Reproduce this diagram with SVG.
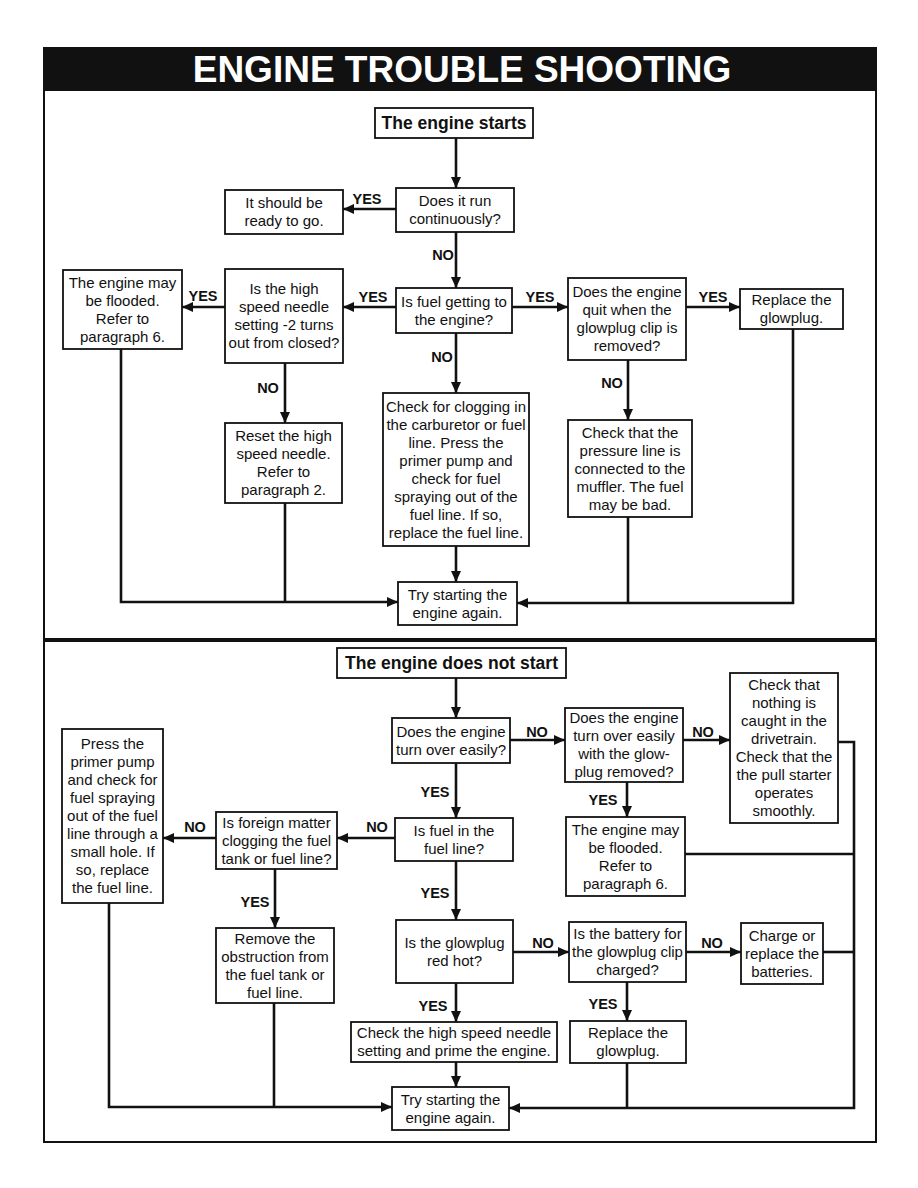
<svg xmlns="http://www.w3.org/2000/svg" width="918" height="1188" viewBox="0 0 918 1188">
<style>
.box{fill:#fff;stroke:#111;stroke-width:1.8}
.t{font-family:"Liberation Sans",Arial,sans-serif;font-size:15px;fill:#111;text-anchor:middle}
.h{font-family:"Liberation Sans",Arial,sans-serif;font-size:17.5px;font-weight:bold;fill:#111;text-anchor:middle}
.lbl{font-family:"Liberation Sans",Arial,sans-serif;font-size:14.5px;font-weight:bold;fill:#111;text-anchor:middle}
.c{fill:none;stroke:#111;stroke-width:2.6}
</style>
<defs>
<marker id="ah" markerUnits="userSpaceOnUse" markerWidth="12" markerHeight="10" refX="11" refY="5" orient="auto">
<path d="M0,0 L11,5 L0,10 z" fill="#111"/>
</marker>
</defs>
<rect width="918" height="1188" fill="#fff"/>
<g id="frame">
<rect x="44" y="90" width="832" height="1052" fill="none" stroke="#111" stroke-width="2"/>
<rect x="43" y="47" width="834" height="43" fill="#111"/>
<text x="462" y="82" font-family="'Liberation Sans',Arial,sans-serif" font-size="37" font-weight="bold" fill="#fff" text-anchor="middle">ENGINE TROUBLE SHOOTING</text>
<line x1="44" y1="640" x2="876" y2="640" stroke="#111" stroke-width="4"/>
</g>
<g id="connectors">
<path class="c" d="M456,138 V188" marker-end="url(#ah)"/>
<path class="c" d="M396,209 H343" marker-end="url(#ah)"/>
<path class="c" d="M456,232 V288" marker-end="url(#ah)"/>
<path class="c" d="M396,307 H343" marker-end="url(#ah)"/>
<path class="c" d="M225,307 H182" marker-end="url(#ah)"/>
<path class="c" d="M512,307 H568" marker-end="url(#ah)"/>
<path class="c" d="M686,307 H740" marker-end="url(#ah)"/>
<path class="c" d="M285,363 V423" marker-end="url(#ah)"/>
<path class="c" d="M456,333 V393" marker-end="url(#ah)"/>
<path class="c" d="M628,360 V420" marker-end="url(#ah)"/>
<path class="c" d="M456,546 V582" marker-end="url(#ah)"/>
<path class="c" d="M121,349 V602 H398" marker-end="url(#ah)"/>
<path class="c" d="M285,503 V602"/>
<path class="c" d="M793,329 V603 H517" marker-end="url(#ah)"/>
<path class="c" d="M628,517 V603"/>
<path class="c" d="M456,678 V718" marker-end="url(#ah)"/>
<path class="c" d="M510,740 H565" marker-end="url(#ah)"/>
<path class="c" d="M683,740 H730" marker-end="url(#ah)"/>
<path class="c" d="M456,763 V818" marker-end="url(#ah)"/>
<path class="c" d="M627,782 V817" marker-end="url(#ah)"/>
<path class="c" d="M395,838 H337" marker-end="url(#ah)"/>
<path class="c" d="M216,838 H163" marker-end="url(#ah)"/>
<path class="c" d="M275,869 V928" marker-end="url(#ah)"/>
<path class="c" d="M456,861 V920" marker-end="url(#ah)"/>
<path class="c" d="M513,952 H569" marker-end="url(#ah)"/>
<path class="c" d="M686,952 H741" marker-end="url(#ah)"/>
<path class="c" d="M456,983 V1022" marker-end="url(#ah)"/>
<path class="c" d="M627,982 V1021" marker-end="url(#ah)"/>
<path class="c" d="M456,1062 V1087" marker-end="url(#ah)"/>
<path class="c" d="M109,903 V1107 H392" marker-end="url(#ah)"/>
<path class="c" d="M274,1003 V1107"/>
<path class="c" d="M838,742 H854 V1108 H509" marker-end="url(#ah)"/>
<path class="c" d="M685,854 H854"/>
<path class="c" d="M823,952 H854"/>
<path class="c" d="M627,1063 V1108"/>
<text class="lbl" x="367" y="204">YES</text>
<text class="lbl" x="443" y="260">NO</text>
<text class="lbl" x="373" y="302">YES</text>
<text class="lbl" x="203" y="301">YES</text>
<text class="lbl" x="540" y="302">YES</text>
<text class="lbl" x="713" y="302">YES</text>
<text class="lbl" x="268" y="393">NO</text>
<text class="lbl" x="442" y="362">NO</text>
<text class="lbl" x="612" y="388">NO</text>
<text class="lbl" x="537" y="737">NO</text>
<text class="lbl" x="703" y="737">NO</text>
<text class="lbl" x="435" y="797">YES</text>
<text class="lbl" x="603" y="805">YES</text>
<text class="lbl" x="377" y="832">NO</text>
<text class="lbl" x="195" y="832">NO</text>
<text class="lbl" x="255" y="907">YES</text>
<text class="lbl" x="435" y="898">YES</text>
<text class="lbl" x="543" y="948">NO</text>
<text class="lbl" x="712" y="948">NO</text>
<text class="lbl" x="433" y="1011">YES</text>
<text class="lbl" x="603" y="1009">YES</text>
</g>
<g id="n_starts"><rect class="box" x="375" y="108" width="158" height="30"/><text class="h" x="454" y="129">The engine starts</text></g>
<g id="n_runcont"><rect class="box" x="396" y="188" width="118" height="44"/><text class="t" x="455" y="206"><tspan x="455">Does it run</tspan><tspan x="455" dy="18">continuously?</tspan></text></g>
<g id="n_ready"><rect class="box" x="225" y="190" width="118" height="44"/><text class="t" x="284" y="208"><tspan x="284">It should be</tspan><tspan x="284" dy="18">ready to go.</tspan></text></g>
<g id="n_needle"><rect class="box" x="225" y="269" width="118" height="94"/><text class="t" x="284" y="294"><tspan x="284">Is the high</tspan><tspan x="284" dy="18">speed needle</tspan><tspan x="284" dy="18">setting -2 turns</tspan><tspan x="284" dy="18">out from closed?</tspan></text></g>
<g id="n_flooded1"><rect class="box" x="63" y="270" width="119" height="79"/><text class="t" x="122.5" y="287.5"><tspan x="122.5">The engine may</tspan><tspan x="122.5" dy="18">be flooded.</tspan><tspan x="122.5" dy="18">Refer to</tspan><tspan x="122.5" dy="18">paragraph 6.</tspan></text></g>
<g id="n_fuelget"><rect class="box" x="396" y="288" width="116" height="45"/><text class="t" x="454" y="306.5"><tspan x="454">Is fuel getting to</tspan><tspan x="454" dy="18">the engine?</tspan></text></g>
<g id="n_quit"><rect class="box" x="568" y="278" width="118" height="82"/><text class="t" x="627" y="297"><tspan x="627">Does the engine</tspan><tspan x="627" dy="18">quit when the</tspan><tspan x="627" dy="18">glowplug clip is</tspan><tspan x="627" dy="18">removed?</tspan></text></g>
<g id="n_replace1"><rect class="box" x="740" y="289" width="103" height="40"/><text class="t" x="791.5" y="305"><tspan x="791.5">Replace the</tspan><tspan x="791.5" dy="18">glowplug.</tspan></text></g>
<g id="n_reset"><rect class="box" x="225" y="423" width="117" height="80"/><text class="t" x="283.5" y="441"><tspan x="283.5">Reset the high</tspan><tspan x="283.5" dy="18">speed needle.</tspan><tspan x="283.5" dy="18">Refer to</tspan><tspan x="283.5" dy="18">paragraph 2.</tspan></text></g>
<g id="n_clog"><rect class="box" x="383" y="393" width="146" height="153"/><text class="t" x="456" y="411.5"><tspan x="456">Check for clogging in</tspan><tspan x="456" dy="18">the carburetor or fuel</tspan><tspan x="456" dy="18">line. Press the</tspan><tspan x="456" dy="18">primer pump and</tspan><tspan x="456" dy="18">check for fuel</tspan><tspan x="456" dy="18">spraying out of the</tspan><tspan x="456" dy="18">fuel line. If so,</tspan><tspan x="456" dy="18">replace the fuel line.</tspan></text></g>
<g id="n_pressure"><rect class="box" x="568" y="420" width="124" height="97"/><text class="t" x="630" y="437.5"><tspan x="630">Check that the</tspan><tspan x="630" dy="18">pressure line is</tspan><tspan x="630" dy="18">connected to the</tspan><tspan x="630" dy="18">muffler. The fuel</tspan><tspan x="630" dy="18">may be bad.</tspan></text></g>
<g id="n_try1"><rect class="box" x="398" y="582" width="119" height="43"/><text class="t" x="457.5" y="599.5"><tspan x="457.5">Try starting the</tspan><tspan x="457.5" dy="18">engine again.</tspan></text></g>
<g id="n_notstart"><rect class="box" x="337" y="648" width="229" height="30"/><text class="h" x="451.5" y="669">The engine does not start</text></g>
<g id="n_turnover"><rect class="box" x="392" y="718" width="118" height="45"/><text class="t" x="451" y="736.5"><tspan x="451">Does the engine</tspan><tspan x="451" dy="18">turn over easily?</tspan></text></g>
<g id="n_turnover2"><rect class="box" x="565" y="708" width="118" height="74"/><text class="t" x="624" y="723"><tspan x="624">Does the engine</tspan><tspan x="624" dy="18">turn over easily</tspan><tspan x="624" dy="18">with the glow-</tspan><tspan x="624" dy="18">plug removed?</tspan></text></g>
<g id="n_drivetrain"><rect class="box" x="730" y="673" width="108" height="150"/><text class="t" x="784" y="690"><tspan x="784">Check that</tspan><tspan x="784" dy="18">nothing is</tspan><tspan x="784" dy="18">caught in the</tspan><tspan x="784" dy="18">drivetrain.</tspan><tspan x="784" dy="18">Check that the</tspan><tspan x="784" dy="18">the pull starter</tspan><tspan x="784" dy="18">operates</tspan><tspan x="784" dy="18">smoothly.</tspan></text></g>
<g id="n_fuelline"><rect class="box" x="395" y="818" width="118" height="43"/><text class="t" x="454" y="835.5"><tspan x="454">Is fuel in the</tspan><tspan x="454" dy="18">fuel line?</tspan></text></g>
<g id="n_flooded2"><rect class="box" x="566" y="817" width="119" height="79"/><text class="t" x="625.5" y="834.5"><tspan x="625.5">The engine may</tspan><tspan x="625.5" dy="18">be flooded.</tspan><tspan x="625.5" dy="18">Refer to</tspan><tspan x="625.5" dy="18">paragraph 6.</tspan></text></g>
<g id="n_foreign"><rect class="box" x="216" y="812" width="121" height="57"/><text class="t" x="276.5" y="827.5"><tspan x="276.5">Is foreign matter</tspan><tspan x="276.5" dy="18">clogging the fuel</tspan><tspan x="276.5" dy="18">tank or fuel line?</tspan></text></g>
<g id="n_primer"><rect class="box" x="62" y="729" width="101" height="174"/><text class="t" x="112.5" y="749"><tspan x="112.5">Press the</tspan><tspan x="112.5" dy="18">primer pump</tspan><tspan x="112.5" dy="18">and check for</tspan><tspan x="112.5" dy="18">fuel spraying</tspan><tspan x="112.5" dy="18">out of the fuel</tspan><tspan x="112.5" dy="18">line through a</tspan><tspan x="112.5" dy="18">small hole. If</tspan><tspan x="112.5" dy="18">so, replace</tspan><tspan x="112.5" dy="18">the fuel line.</tspan></text></g>
<g id="n_remove"><rect class="box" x="216" y="928" width="118" height="75"/><text class="t" x="275" y="943.5"><tspan x="275">Remove the</tspan><tspan x="275" dy="18">obstruction from</tspan><tspan x="275" dy="18">the fuel tank or</tspan><tspan x="275" dy="18">fuel line.</tspan></text></g>
<g id="n_redhot"><rect class="box" x="396" y="920" width="117" height="63"/><text class="t" x="454.5" y="947.5"><tspan x="454.5">Is the glowplug</tspan><tspan x="454.5" dy="18">red hot?</tspan></text></g>
<g id="n_battery"><rect class="box" x="569" y="922" width="117" height="60"/><text class="t" x="627.5" y="939"><tspan x="627.5">Is the battery for</tspan><tspan x="627.5" dy="18">the glowplug clip</tspan><tspan x="627.5" dy="18">charged?</tspan></text></g>
<g id="n_charge"><rect class="box" x="741" y="923" width="82" height="61"/><text class="t" x="782" y="940.5"><tspan x="782">Charge or</tspan><tspan x="782" dy="18">replace the</tspan><tspan x="782" dy="18">batteries.</tspan></text></g>
<g id="n_prime"><rect class="box" x="351" y="1022" width="206" height="40"/><text class="t" x="454" y="1038"><tspan x="454">Check the high speed needle</tspan><tspan x="454" dy="18">setting and prime the engine.</tspan></text></g>
<g id="n_replace2"><rect class="box" x="570" y="1021" width="116" height="42"/><text class="t" x="628" y="1038"><tspan x="628">Replace the</tspan><tspan x="628" dy="18">glowplug.</tspan></text></g>
<g id="n_try2"><rect class="box" x="392" y="1087" width="117" height="43"/><text class="t" x="450.5" y="1104.5"><tspan x="450.5">Try starting the</tspan><tspan x="450.5" dy="18">engine again.</tspan></text></g>
</svg>
